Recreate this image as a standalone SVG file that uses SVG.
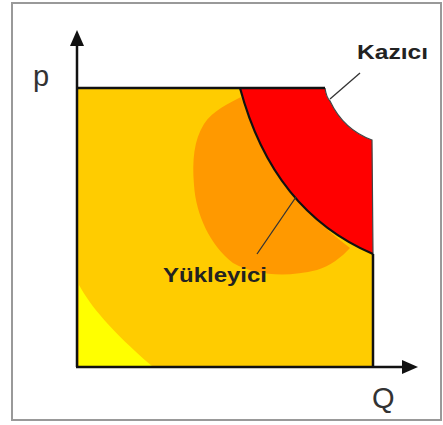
<svg xmlns="http://www.w3.org/2000/svg" width="443" height="425" viewBox="0 0 443 425">
<style>
.ax{stroke:#111;stroke-width:2.5;fill:none}
.head{fill:#111}
.lead{stroke:#333;stroke-width:1.3;fill:none}
.lbl{font-family:"Liberation Sans",Arial,sans-serif;font-weight:bold;fill:#222}
.axl{font-family:"Liberation Sans",Arial,sans-serif;fill:#333}
</style>
<rect x="0" y="0" width="443" height="425" fill="#fff"/>
<rect x="12" y="3" width="429" height="417" fill="none" stroke="#999" stroke-width="2"/>
<g id="plot">
<path d="M77,88 L240,88 C262,170 305,225 373,254 L373,367 L77,367 Z" fill="#ffcc00"/>
<path d="M79,285 C90,305 110,330 152,366 L79,366 Z" fill="#ffff00"/>
<path d="M241,97 C230,103 213,110 204,124 C194,140 192,160 194,185 C196,215 210,245 233,263 C255,275 285,278 317,270 C330,266 342,257 350,248 C320,225 300,205 285,183 C265,155 250,125 241,97 Z" fill="#ff9900"/>
<path d="M240,88 L325,88 C326,95 327,98 330,101 C338,118 350,132 372,140 L373,254 C305,225 262,170 240,88 Z" fill="#ff0000"/>
<path d="M325,88 C326,95 327,98 330,101 C338,118 350,132 372,140 L373,254" fill="none" stroke="#444" stroke-width="1.2"/>
<path d="M240,88 C262,170 305,225 373,254" fill="none" stroke="#111" stroke-width="2.2"/>
<path d="M77,88 L325,88" class="ax" stroke-width="2"/>
<path d="M373,254 L373,367" class="ax" stroke-width="2"/>
</g>
<g id="axes">
<path d="M77,367 L77,42" class="ax"/>
<path d="M77,30 L70,46 L84,46 Z" class="head"/>
<path d="M76,367 L406,367" class="ax"/>
<path d="M418,367 L402,360 L402,374 Z" class="head"/>
<text x="33" y="86" class="axl" font-size="29">p</text>
<text x="372" y="408" class="axl" font-size="29">Q</text>
</g>
<g id="connectors">
<path d="M360,73 L330,99" class="lead"/>
<path d="M296,197 L257,254" class="lead"/>
</g>
<g id="kazici">
<text x="357" y="59" class="lbl" font-size="20" textLength="71" lengthAdjust="spacingAndGlyphs">Kazıcı</text>
</g>
<g id="yukleyici">
<text x="163" y="282" class="lbl" font-size="21" textLength="104" lengthAdjust="spacingAndGlyphs">Yükleyici</text>
</g>
</svg>
